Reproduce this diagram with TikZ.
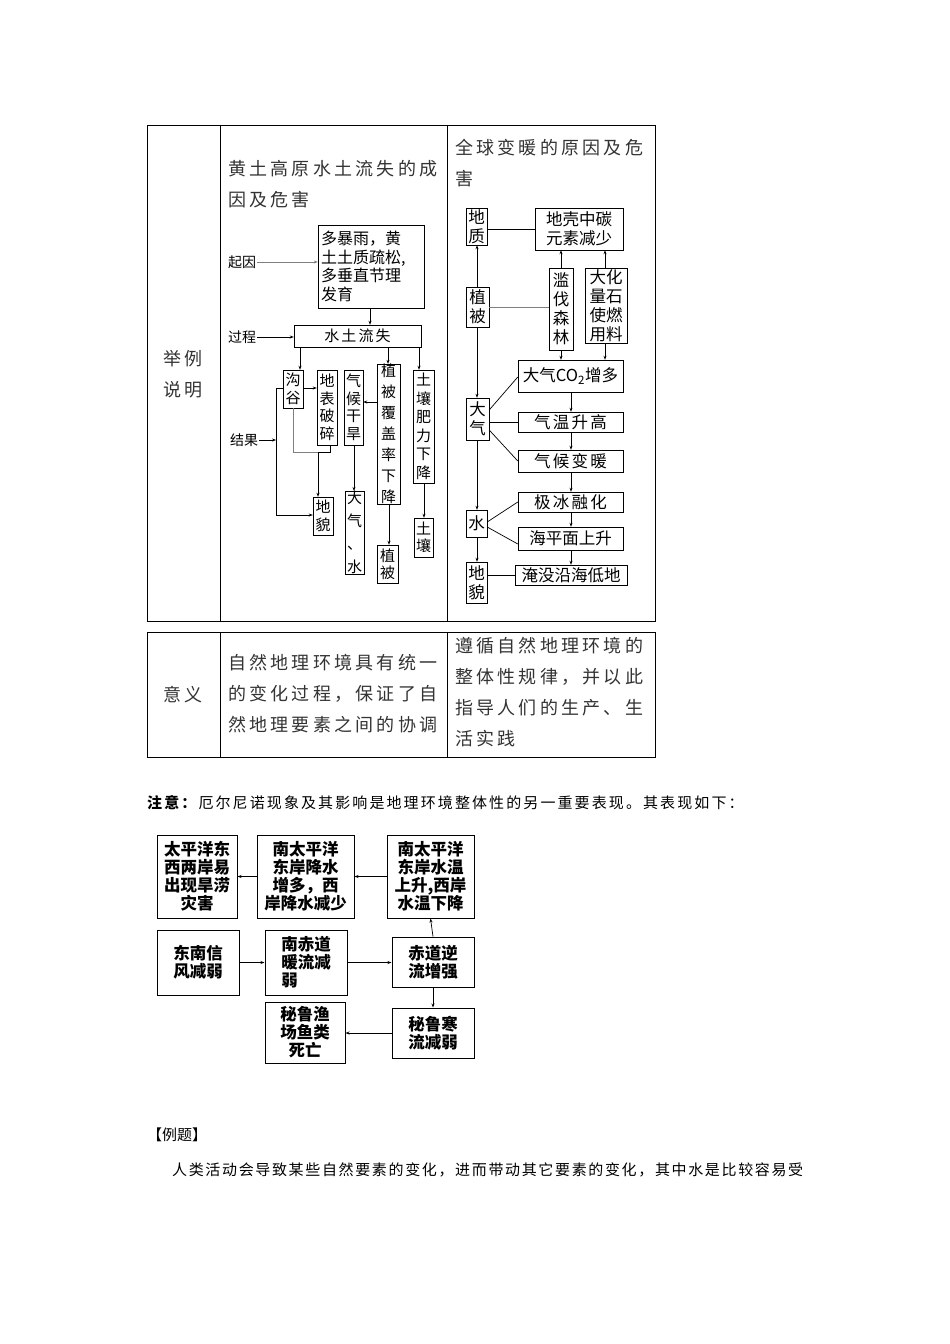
\documentclass[tikz,border=0pt]{standalone}
\usepackage{fontspec}
\setmainfont{Noto Sans CJK SC}
\newfontfamily\spa[LetterSpace=18]{Noto Sans CJK SC}
\newfontfamily\spb[LetterSpace=14]{Noto Sans CJK SC}
\newfontfamily\spc[LetterSpace=11]{Noto Sans CJK SC}
\usetikzlibrary{arrows.meta}
\newcommand\bx[7][]{\node[bx,#1,minimum width={(#5-#3)*1pt},minimum height={(#6-#4)*1pt}] (#2) at ({(#3+#5)/2},{(#4+#6)/2}) {#7};}
\begin{document}
\begin{tikzpicture}[x=1pt,y=-1pt,
 bx/.style={draw,inner sep=0pt,align=center,font=\fontsize{15}{17.5}\selectfont},
 arr/.style={-{Stealth[length=4pt,width=3pt]},line width=0.7pt},
 ln/.style={line width=0.7pt},
 thin/.style={line width=0.5pt,gray},
 tb/.style={line width=0.8pt},
 tx/.style={font=\spa\fontsize{18}{31}\selectfont,text=black!80,align=left,anchor=north west,inner sep=0pt},
 lab/.style={font=\fontsize{14}{16}\selectfont,inner sep=1pt}]
\useasboundingbox (0,0) rectangle (950,1344);
% tables
\draw[tb] (147,125) rectangle (655,621);
\draw[tb] (220,125) -- (220,621) (447,125) -- (447,621);
\draw[tb] (147,632) rectangle (655,757);
\draw[tb] (220,632) -- (220,757) (447,632) -- (447,757);
\node[tx,anchor=center,align=center] (jl) at (183,374) {举例\\说明};
\node[tx] (t1) at (228,160) {黄土高原水土流失的成\\因及危害};
\node[tx] (t2) at (455,139) {全球变暖的原因及危\\害};
\node[tx,anchor=center] (yy) at (183,695) {意义};
\node[tx] (t3) at (228,654) {自然地理环境具有统一\\的变化过程，保证了自\\然地理要素之间的协调};
\node[tx] (t4) at (455,637) {遵循自然地理环境的\\整体性规律，并以此\\指导人们的生产、生\\活实践};
% left flow
\bx[align=left,text width=100pt,inner sep=3pt,font=\fontsize{16}{18.5}\selectfont]{cause}{318}{225}{424}{308}{多暴雨，黄\\土土质疏松,\\多垂直节理\\发育}
\bx[font=\spb\fontsize{15}{17.5}\selectfont]{ws}{294}{325}{421}{347}{水土流失}
\node[lab] (qy) at (242,262) {起因};
\node[lab] (gc) at (242,337) {过程};
\node[lab] (jg) at (244,440) {结果};
\draw[arr,thin] (qy.east) -- (cause.west |- qy.east);
\draw[arr] (gc.east) -- (ws.west |- gc.east);
\draw[arr] (370,0 |- cause.south) -- (370,0 |- ws.north);
\bx{gg}{283}{370}{303}{408}{沟\\谷}
\bx{dbps}{317}{370}{337}{445}{地\\表\\破\\碎}
\bx{qhgh}{344}{370}{363}{445}{气\\候\\干\\旱}
\bx[font=\fontsize{15}{21}\selectfont]{zbfg}{377}{370}{400}{498}{植\\被\\覆\\盖\\率\\下\\降}
\bx[font=\fontsize{15}{18.5}\selectfont]{trfl}{413}{370}{434}{483}{土\\壤\\肥\\力\\下\\降}
\bx{dm}{313}{497}{333}{535}{地\\貌}
\bx[font=\fontsize{15}{23}\selectfont]{dqs}{345}{498}{364}{567}{大\\气\\、\\水}
\bx{zb}{377}{545}{398}{583}{植\\被}
\bx{tr}{414}{518}{433}{557}{土\\壤}
\draw[arr] (300,0 |- ws.south) -- (300,0 |- gg.north);
\draw[arr] (388,0 |- ws.south) -- (388,0 |- zbfg.north);
\draw[arr] (419,0 |- ws.south) -- (419,0 |- trfl.north);
\draw[arr] (gg.east |- 0,388) -- (dbps.west |- 0,388);
\draw[arr] (zbfg.west |- 0,402) -- (qhgh.east |- 0,402);
\draw[thin] (293,0 |- gg.south) |- (318,452);
\draw[arr] (330,0 |- dbps.south) -- (330,452) -- (318,452) -- (318,0 |- dm.north);
\draw[ln] (gg.west |- 0,388) -- (276,388) -- (276,515);
\draw[arr] (276,515) -- (dm.west |- 0,515);
\draw[arr] (jg.east) -- (276,0 |- jg.east);
\draw[arr] (354,0 |- qhgh.south) -- (354,0 |- dqs.north);
\draw[arr] (389,0 |- zbfg.south) -- (389,0 |- zb.north);
\draw[arr] (424,0 |- trfl.south) -- (424,0 |- tr.north);
% right flow
\tikzset{bx/.append style={font=\fontsize{16.5}{19}\selectfont}}
\bx{dz}{466}{208}{487}{245}{地\\质}
\bx{dk}{535}{208}{623}{250}{地壳中碳\\元素减少}
\bx{zb2}{466}{287}{489}{327}{植\\被}
\bx{lf}{549}{268}{573}{350}{滥\\伐\\森\\林}
\bx{hs}{585}{268}{627}{343}{大化\\量石\\使燃\\用料}
\bx{co}{518}{360}{623}{392}{大气CO\textsubscript{2}增多}
\bx{dq}{466}{398}{489}{440}{大\\气}
\bx[font=\spb\fontsize{16.5}{19}\selectfont]{qw}{518}{412}{623}{432}{气温升高}
\bx[font=\spb\fontsize{16.5}{19}\selectfont]{qh}{518}{450}{623}{472}{气候变暖}
\bx{sh}{466}{510}{487}{537}{水}
\bx[font=\spb\fontsize{16.5}{19}\selectfont]{jb}{518}{492}{623}{512}{极冰融化}
\bx{hp}{518}{527}{623}{550}{海平面上升}
\bx{dm2}{466}{562}{487}{603}{地\\貌}
\bx{ym}{515}{565}{627}{585}{淹没沿海低地}
\draw[ln] (dz.east |- dk.west) -- (dk.west);
\draw[arr] (477,0 |- zb2.north) -- (477,0 |- dz.south);
\draw[thin] (zb2.east |- 0,307) -- (lf.west |- 0,307);
\draw[arr] (lf.north) -- (lf.north |- dk.south);
\draw[arr] (605,0 |- hs.north) -- (605,0 |- dk.south);
\draw[arr] (lf.south) -- (lf.south |- co.north);
\draw[arr] (605,0 |- hs.south) -- (605,0 |- co.north);
\draw[arr] (477,0 |- zb2.south) -- (477,0 |- dq.north);
\draw[ln] (dq.east |- 0,410) -- (co.west |- 0,377);
\draw[ln] (dq.east |- 0,422) -- (qw.west |- 0,422);
\draw[ln] (dq.east |- 0,430) -- (qh.west |- 0,461);
\draw[arr] (571,0 |- co.south) -- (571,0 |- qw.north);
\draw[arr] (571,0 |- qw.south) -- (571,0 |- qh.north);
\draw[arr] (571,0 |- qh.south) -- (571,0 |- jb.north);
\draw[arr] (571,0 |- jb.south) -- (571,0 |- hp.north);
\draw[arr] (571,0 |- hp.south) -- (571,0 |- ym.north);
\draw[arr] (477,0 |- dq.south) -- (477,0 |- sh.north);
\draw[ln] (sh.east |- 0,522) -- (jb.west |- 0,502);
\draw[ln] (sh.east |- 0,527) -- (hp.west |- 0,544);
\draw[arr] (477,0 |- sh.south) -- (477,0 |- dm2.north);
\draw[ln] (dm2.east |- ym.west) -- (ym.west);
% note
\node[anchor=west,inner sep=0pt,font=\spb\fontsize{15}{17}\selectfont] (zy) at (147,803) {\textbf{注意：}厄尔尼诺现象及其影响是地理环境整体性的另一重要表现。其表现如下：};
% bottom diagram
\tikzset{bx/.append style={font=\bfseries\fontsize{16.5}{18}\selectfont,line width=1pt}}
\bx{A}{157}{835}{237}{918}{太平洋东\\西两岸易\\出现旱涝\\灾害}
\bx{B}{257}{835}{354}{918}{南太平洋\\东岸降水\\增多，西\\岸降水减少}
\bx{C}{387}{835}{474}{918}{南太平洋\\东岸水温\\上升,西岸\\水温下降}
\bx{D}{157}{930}{239}{995}{东南信\\风减弱}
\bx[align=left]{E}{265}{930}{347}{995}{南赤道\\暖流减\\弱}
\bx{F}{392}{937}{474}{987}{赤道逆\\流增强}
\bx{G}{265}{1002}{345}{1063}{秘鲁渔\\场鱼类\\死亡}
\bx{H}{392}{1008}{474}{1058}{秘鲁寒\\流减弱}
\draw[arr] (C.west) -- (B.east |- C.west);
\draw[arr] (B.west) -- (A.east |- B.west);
\draw[arr] (D.east) -- (E.west |- D.east);
\draw[arr] (E.east) -- (F.west |- E.east);
\draw[arr] (F.north) -- (C.south);
\draw[arr] (F.south) -- (H.north);
\draw[arr] (H.west) -- (G.east |- H.west);
% example
\node[anchor=west,inner sep=0pt,font=\fontsize{15}{17}\selectfont] (lt) at (147,1135) {【例题】};
\node[anchor=west,inner sep=0pt,font=\spc\fontsize{15}{17}\selectfont] (lx) at (172,1170) {人类活动会导致某些自然要素的变化，进而带动其它要素的变化，其中水是比较容易受};
\end{tikzpicture}
\end{document}
